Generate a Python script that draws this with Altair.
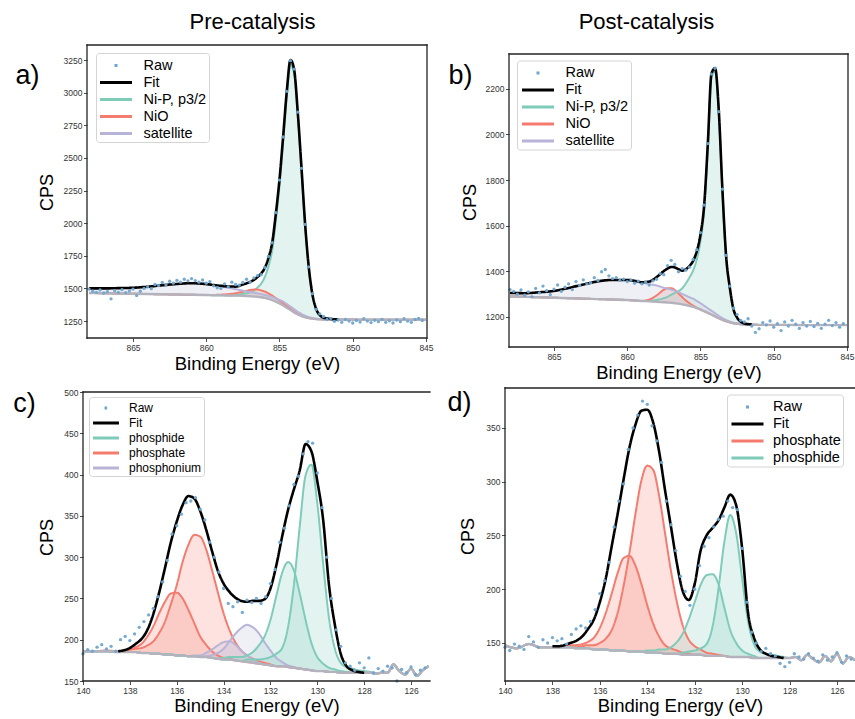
import altair as alt
import pandas as pd

FONT = "Liberation Sans"

# ---------------- Ni 2p panels (a, b) ----------------
NI_E = [868, 867, 866, 865, 864, 863, 862, 861, 860, 859.5, 859, 858.5, 858, 857.5,
        857.25, 857, 856.75, 856.5, 856.25, 856, 855.75, 855.5, 855.25, 855, 854.75,
        854.5, 854.25, 854, 853.75, 853.5, 853.25, 853, 852.75, 852.5, 852.25, 852,
        851.5, 851, 850, 849, 848, 847, 846, 845]

A_BG = [1465, 1463, 1461, 1459, 1457, 1455, 1453, 1451, 1449, 1448, 1447, 1446, 1445, 1443,
        1441, 1440, 1438, 1436, 1432, 1428, 1420, 1410, 1398, 1385, 1370, 1352, 1334, 1316,
        1300, 1288, 1279, 1272, 1268, 1265, 1263, 1262, 1262, 1261, 1261, 1260, 1260, 1260, 1260, 1260]
A_NIP = [1465, 1463, 1461, 1459, 1457, 1455, 1453, 1451, 1449, 1448, 1447, 1446, 1447, 1458,
         1463, 1470, 1483, 1506, 1537, 1588, 1670, 1790, 2018, 2285, 2620, 2972, 3214, 3146,
         2820, 2408, 1979, 1652, 1448, 1340, 1293, 1274, 1265, 1262, 1261, 1260, 1260, 1260, 1260, 1260]
A_NIO = [1465, 1463, 1461, 1459, 1457, 1455, 1453, 1451, 1449, 1450, 1452, 1456, 1463, 1475,
         1481, 1488, 1491, 1491, 1485, 1476, 1462, 1445, 1426, 1407, 1386, 1364, 1343, 1322,
         1304, 1291, 1281, 1273, 1268, 1265, 1263, 1262, 1262, 1261, 1261, 1260, 1260, 1260, 1260, 1260]
A_SAT = [1500, 1500, 1502, 1505, 1513, 1524, 1534, 1540, 1533, 1524, 1515, 1505, 1494, 1483,
         1477, 1472, 1467, 1462, 1456, 1450, 1442, 1434, 1423, 1412, 1398, 1380, 1361, 1341,
         1321, 1304, 1291, 1281, 1274, 1269, 1266, 1264, 1263, 1261, 1261, 1260, 1260, 1260, 1260, 1260]
# fit curve (drawn where the model is non-trivial)
A_FIT_E = NI_E[:38]
A_FIT = [1500, 1500, 1502, 1505, 1513, 1524, 1534, 1540, 1533, 1526, 1520, 1515, 1514, 1530,
         1539, 1550, 1565, 1587, 1614, 1658, 1734, 1849, 2071, 2334, 2664, 3012, 3250, 3177,
         2845, 2427, 1993, 1662, 1454, 1344, 1296, 1276, 1266, 1262]

B_BG = [1290, 1288, 1286, 1284, 1282, 1280, 1278, 1276, 1274, 1272, 1270, 1268, 1266, 1264,
        1263, 1262, 1260, 1258, 1255, 1252, 1248, 1244, 1238, 1232, 1225, 1218, 1210, 1202,
        1194, 1187, 1181, 1176, 1172, 1170, 1168, 1167, 1166, 1165, 1165, 1165, 1164, 1164, 1164, 1164]
B_NIP = [1290, 1288, 1286, 1284, 1282, 1280, 1278, 1276, 1274, 1272, 1270, 1271, 1274, 1282,
         1288, 1297, 1305, 1313, 1325, 1347, 1373, 1404, 1453, 1532, 1665, 1938, 2250, 2277,
         2094, 1747, 1461, 1326, 1232, 1195, 1178, 1171, 1167, 1165, 1165, 1165, 1164, 1164, 1164, 1164]
B_NIO = [1290, 1288, 1286, 1284, 1282, 1280, 1278, 1276, 1274, 1272, 1270, 1276, 1294, 1319,
         1326, 1326, 1318, 1303, 1287, 1272, 1260, 1250, 1241, 1233, 1225, 1218, 1210, 1202,
         1194, 1187, 1181, 1176, 1172, 1170, 1168, 1167, 1166, 1165, 1165, 1165, 1164, 1164, 1164, 1164]
B_SAT = [1305, 1304, 1308, 1314, 1327, 1342, 1356, 1362, 1362, 1358, 1352, 1344, 1338, 1328,
         1324, 1320, 1314, 1309, 1301, 1294, 1286, 1280, 1270, 1260, 1249, 1238, 1227, 1216,
         1205, 1195, 1187, 1180, 1175, 1172, 1169, 1167, 1166, 1165, 1165, 1165, 1164, 1164, 1164, 1164]
B_FIT_E = NI_E[:37]
B_FIT = [1305, 1304, 1308, 1314, 1327, 1342, 1356, 1362, 1362, 1358, 1352, 1355, 1374, 1401,
         1412, 1419, 1417, 1409, 1403, 1409, 1423, 1446, 1488, 1561, 1689, 1958, 2267, 2291,
         2105, 1755, 1467, 1330, 1235, 1197, 1179, 1171, 1167]

RAW_NI_E = [868.0, 867.75, 867.5, 867.25, 867.0, 866.75, 866.5, 866.25, 866.0, 865.75, 865.5, 865.25,
            865.0, 864.75, 864.5, 864.25, 864.0, 863.75, 863.5, 863.25, 863.0, 862.75, 862.5, 862.25,
            862.0, 861.75, 861.5, 861.25, 861.0, 860.75, 860.5, 860.25, 860.0, 859.75, 859.5, 859.25,
            859.0, 858.75, 858.5, 858.25, 858.0, 857.75, 857.5, 857.25, 857.0, 856.75, 856.5, 856.25,
            856.0, 855.75, 855.5, 855.25, 855.0, 854.75, 854.5, 854.25, 854.0, 853.75, 853.5, 853.25,
            853.0, 852.75, 852.5, 852.25, 852.0, 851.75, 851.5, 851.25, 851.0, 850.75, 850.5, 850.25,
            850.0, 849.75, 849.5, 849.25, 849.0, 848.75, 848.5, 848.25, 848.0, 847.75, 847.5, 847.25,
            847.0, 846.75, 846.5, 846.25, 846.0, 845.75, 845.5, 845.25]
RAW_A = [1495, 1478, 1470, 1488, 1465, 1476, 1420, 1482, 1470, 1490,
         1468, 1480, 1495, 1445, 1478, 1500, 1512, 1498, 1530, 1522,
         1545, 1528, 1555, 1540, 1562, 1548, 1570, 1558, 1575, 1560,
         1548, 1565, 1540, 1552, 1520, 1505, 1500, 1535, 1512, 1548,
         1530, 1525, 1545, 1570, 1548, 1580, 1598, 1605, 1660, 1745,
         1850, 2080, 2330, 2660, 3010, 3245, 3180, 2850, 2420, 1990,
         1665, 1460, 1340, 1305, 1285, 1262, 1270, 1248, 1258, 1240,
         1262, 1250, 1235, 1255, 1242, 1268, 1250, 1238, 1256, 1245,
         1262, 1240, 1252, 1235, 1258, 1245, 1268, 1250, 1240, 1262,
         1270, 1255]
RAW_B = [1320, 1312, 1300, 1318, 1295, 1310, 1288, 1325, 1305, 1335,
         1315, 1298, 1322, 1340, 1312, 1330, 1345, 1320, 1355, 1338,
         1362, 1345, 1350, 1372, 1360, 1398, 1408, 1380, 1368, 1372,
         1360, 1366, 1355, 1362, 1348, 1357, 1345, 1352, 1340, 1358,
         1365, 1390, 1385, 1425, 1448, 1430, 1398, 1412, 1405, 1418,
         1452, 1495, 1570, 1690, 1960, 2265, 2290, 2100, 1760, 1470,
         1335, 1238, 1210, 1185, 1178, 1192, 1160, 1132, 1148, 1175,
         1165, 1182, 1155, 1170, 1140, 1178, 1160, 1185, 1168, 1150,
         1175, 1160, 1180, 1158, 1172, 1150, 1168, 1185, 1162, 1175,
         1155, 1170]

# ---------------- P 2p panels (c, d) ----------------
P_E = [140, 139.5, 139, 138.5, 138, 137.75, 137.5, 137.25, 137, 136.75, 136.5, 136.25, 136,
       135.75, 135.5, 135.25, 135, 134.75, 134.5, 134.25, 134, 133.75, 133.5, 133.25, 133,
       132.75, 132.5, 132.25, 132, 131.75, 131.5, 131.25, 131, 130.75, 130.5, 130.25, 130,
       129.75, 129.5, 129.25, 129, 128.75, 128.5, 128.25, 128, 127.75, 127.5, 127.25, 127,
       126.75, 126.5, 126.25, 126, 125.75, 125.5, 125.25]

C_BG = [186, 186, 186, 185, 185, 185, 184, 184, 183, 183, 182, 182, 181, 181, 180, 180, 179, 179,
        178, 177, 176, 176, 175, 174, 173, 172, 171, 170, 169, 168, 168, 167, 166, 165, 164, 163,
        162, 162, 161, 161, 160, 160, 160, 160, 160, 160, 159, 160, 160, 170, 162, 158, 165, 156, 163, 168]
C_RED1 = [186, 186, 186, 185, 188, 189, 190, 193, 198, 208, 222, 243, 266, 294, 315, 327, 325, 310,
          285, 258, 232, 212, 197, 187, 181, 177, 174, 172, 170, 168, 168, 167, 166, 165, 164, 163,
          162, 162, 161, 161, 160, 160, 160, 160, 160, 160, 159, 160, 160, 170, 162, 158, 165, 156, 163, 168]
C_RED2 = [186, 186, 187, 186, 188, 191, 195, 204, 216, 232, 246, 256, 257, 250, 236, 220, 204, 194,
          186, 181, 178, 177, 175, 174, 173, 172, 171, 170, 169, 168, 168, 167, 166, 165, 164, 163,
          162, 162, 161, 161, 160, 160, 160, 160, 160, 160, 159, 160, 160, 170, 162, 158, 165, 156, 163, 168]
C_PUR1 = [186, 186, 186, 185, 185, 185, 184, 184, 183, 183, 182, 182, 181, 181, 180, 181, 181, 184,
          188, 193, 197, 198, 194, 187, 181, 176, 172, 170, 169, 168, 168, 167, 166, 165, 164, 163,
          162, 162, 161, 161, 160, 160, 160, 160, 160, 160, 159, 160, 160, 170, 162, 158, 165, 156, 163, 168]
C_PUR2 = [186, 186, 186, 185, 185, 185, 184, 184, 183, 183, 182, 182, 181, 181, 180, 180, 179, 180,
          181, 184, 189, 198, 207, 214, 218, 215, 208, 197, 187, 178, 173, 169, 167, 165, 164, 163,
          162, 162, 161, 161, 160, 160, 160, 160, 160, 160, 159, 160, 160, 170, 162, 158, 165, 156, 163, 168]
C_TEAL1 = [186, 186, 186, 185, 185, 185, 184, 184, 183, 183, 182, 182, 181, 181, 180, 180, 179, 179,
           178, 177, 178, 179, 179, 179, 181, 185, 193, 204, 224, 253, 281, 294, 284, 256, 224, 196,
           179, 171, 166, 164, 162, 161, 160, 160, 160, 160, 159, 160, 160, 170, 162, 158, 165, 156, 163, 168]
C_TEAL2 = [186, 186, 186, 185, 185, 185, 184, 184, 183, 183, 182, 182, 181, 181, 180, 180, 179, 179,
           178, 177, 176, 176, 175, 174, 176, 176, 176, 177, 179, 183, 190, 215, 266, 337, 399, 412,
           365, 292, 226, 189, 172, 167, 165, 163, 162, 161, 159, 160, 160, 170, 162, 158, 165, 156, 163, 168]
C_FIT_E = P_E[3:45]
C_FIT = [186, 190, 195, 201, 212, 231, 257, 287, 318, 343, 363, 374, 371, 356, 334,
         308, 284, 268, 258, 251, 247, 246, 247, 247, 249, 262, 290, 325, 357, 382, 405, 437, 428,
         392, 345, 266, 218, 183, 168, 163, 161, 160]

D_BG = [148, 145, 149, 146, 146, 146, 146, 146, 145, 145, 145, 144, 144, 144, 143, 143, 143, 142,
        142, 142, 141, 141, 141, 140, 140, 140, 139, 139, 139, 139, 138, 138, 138, 138, 137, 137,
        137, 137, 136, 136, 136, 136, 136, 136, 136, 137, 134, 139, 135, 132, 138, 133, 140, 131, 137, 134]
D_RED_BIG = [148, 145, 149, 146, 146, 146, 146, 146, 146, 147, 148, 148, 150, 154, 162, 178, 203, 234,
             270, 301, 315, 311, 287, 252, 217, 188, 166, 153, 147, 144, 141, 140, 139, 138, 137, 137,
             137, 137, 136, 136, 136, 136, 136, 136, 136, 137, 134, 139, 135, 132, 138, 133, 140, 131, 137, 134]
D_RED_SMALL = [148, 145, 149, 146, 146, 146, 147, 148, 148, 149, 151, 155, 164, 178, 196, 215, 229, 231,
               222, 205, 185, 168, 156, 148, 145, 143, 141, 140, 139, 139, 138, 138, 138, 138, 137, 137,
               137, 137, 136, 136, 136, 136, 136, 136, 136, 137, 134, 139, 135, 132, 138, 133, 140, 131, 137, 134]
D_TEAL_SMALL = [148, 145, 149, 146, 146, 146, 146, 146, 145, 145, 145, 144, 144, 144, 143, 143, 143, 142,
                142, 142, 143, 143, 144, 144, 146, 151, 159, 172, 188, 204, 213, 214, 205, 183, 162, 150,
                143, 140, 138, 136, 136, 136, 136, 136, 136, 137, 134, 139, 135, 132, 138, 133, 140, 131, 137, 134]
D_TEAL_BIG = [148, 145, 149, 146, 146, 146, 146, 146, 145, 145, 145, 144, 144, 144, 143, 143, 143, 142,
              142, 142, 141, 141, 141, 140, 140, 140, 141, 142, 143, 145, 149, 165, 200, 244, 269, 252,
              210, 170, 149, 142, 140, 139, 138, 137, 136, 137, 134, 139, 135, 132, 138, 133, 140, 131, 137, 134]
D_FIT_E = P_E[4:44]
D_FIT = [147, 147, 148, 150, 152, 156, 163, 172, 188, 210, 240, 270, 302, 332,
         353, 366, 367, 355, 328, 292, 258, 224, 198, 190, 205, 236, 250, 257, 264, 276, 288, 278,
         238, 178, 155, 144, 140, 138, 137, 136]

RAW_P_E = [140.0, 139.8, 139.6, 139.4, 139.2, 139.0, 138.8, 138.6, 138.4, 138.2, 138.0, 137.8, 137.6,
           137.4, 137.2, 137.0, 136.8, 136.6, 136.4, 136.2, 136.0, 135.8, 135.6, 135.4, 135.2, 135.0,
           134.8, 134.6, 134.4, 134.2, 134.0, 133.8, 133.6, 133.4, 133.2, 133.0, 132.8, 132.6, 132.4,
           132.2, 132.0, 131.8, 131.6, 131.4, 131.2, 131.0, 130.8, 130.6, 130.4, 130.2, 130.0, 129.8,
           129.6, 129.4, 129.2, 129.0, 128.8, 128.6, 128.4, 128.2, 128.0, 127.8, 127.6, 127.4, 127.2,
           127.0, 126.8, 126.6, 126.4, 126.2, 126.0, 125.8, 125.6, 125.4]
RAW_C = [183, 188, 186, 191, 194, 189, 192, 186, 200, 204,
         199, 207, 215, 222, 230, 238, 252, 270, 296, 328,
         338, 352, 366, 368, 372, 358, 345, 318, 300, 282,
         262, 244, 240, 246, 233, 248, 245, 250, 244, 252,
         268, 285, 318, 335, 362, 388, 398, 425, 440, 438,
         402, 360, 300, 250, 212, 192, 172, 168, 163, 172,
         166, 178, 160, 165, 162, 168, 166, 150, 164, 160,
         167, 158, 163, 166]
RAW_D = [146, 143, 149, 147, 144, 156, 151, 146, 153, 150,
         155, 152, 154, 149, 158, 163, 166, 164, 170, 181,
         196, 208, 225, 258, 282, 298, 330, 350, 362, 375,
         372, 352, 338, 318, 282, 260, 236, 212, 198, 185,
         200, 222, 240, 248, 258, 265, 268, 282, 276, 274,
         238, 188, 160, 150, 142, 145, 140, 138, 131, 128,
         132, 140, 137, 135, 140, 136, 133, 139, 134, 137,
         141, 132, 138, 135]

# ---------------- styling ----------------
TEAL = "#7fcbb9"
RED = "#f47c6e"
PURPLE = "#b8b4d8"
RAWC = "#6fa5cf"
BGC = "#b4b2bd"
FRAME = "#222222"
SOLID = [1, 0]
ONE = pd.DataFrame({"k": [0]})


def legend(x, y, size, path, sym_off, lab_off, fs):
    return alt.Legend(title=None, orient="none", legendX=x, legendY=y, symbolType=path,
                      symbolSize=size, symbolStrokeWidth=3, labelFont=FONT, labelFontSize=fs,
                      labelColor="black", labelOffset=lab_off, symbolOffset=sym_off, rowPadding=0,
                      padding=2, strokeColor="#d4d4d4", fillColor="white", cornerRadius=3,
                      labelLimit=400, direction="vertical")


def x_axis(off, vals, ty):
    return alt.Axis(orient="bottom", offset=off, values=vals, format="d", title="Binding Energy (eV)",
                    titleFont=FONT, titleFontSize=18.5, titleFontWeight="normal", titleColor="black",
                    titleBaseline="alphabetic", titleY=ty, labelFont=FONT, labelFontSize=8.5,
                    labelColor="#333", labelPadding=1.5, labelFlush=False, labelOverlap=False,
                    tickSize=3.5, tickColor="#222", tickWidth=0.8, domain=False, grid=False)


def y_axis(off, vals, tx, ty):
    return alt.Axis(orient="left", offset=off, values=vals, format="d", title="CPS",
                    titleFont=FONT, titleFontSize=18, titleFontWeight="normal", titleColor="black",
                    titleX=tx, titleY=ty, titleBaseline="middle", labelFont=FONT, labelFontSize=8.5,
                    labelColor="#333", labelPadding=1.5, labelOverlap=False, tickSize=3.5,
                    tickColor="#222", tickWidth=0.8, domain=False, grid=False)


def panel(E, bg, comps, fit_e, fit, raw_e, raw_v, xs, ys, domain, colors, dashes, leg):
    rows = []
    for series, cid, vals in comps:
        for e, v, b in zip(E, vals, bg):
            rows.append({"E": e, "v": v, "bg": b, "series": series, "curve": cid})
    comp_df = pd.DataFrame(rows)
    fit_df = pd.DataFrame({"E": fit_e, "v": fit, "series": "Fit", "curve": "fit"})
    bg_df = pd.DataFrame({"E": E, "v": bg})
    raw_df = pd.DataFrame({"E": raw_e, "v": raw_v})

    Xn = alt.X("E:Q", scale=xs, axis=None)
    Yn = alt.Y("v:Q", scale=ys, axis=None, stack=None)
    fill_dom = [s for s in domain if s not in ("Raw", "Fit")]
    fill_rng = [c for s, c in zip(domain, colors) if s not in ("Raw", "Fit")]
    stroke = alt.Stroke("series:N", scale=alt.Scale(domain=domain, range=colors), legend=leg)
    dash = alt.StrokeDash("series:N", scale=alt.Scale(domain=domain, range=dashes), legend=leg)

    area = alt.Chart(comp_df).mark_area(interpolate="monotone", fillOpacity=0.22).encode(
        x=Xn, y=Yn, y2="bg:Q",
        fill=alt.Fill("series:N", scale=alt.Scale(domain=fill_dom, range=fill_rng), legend=None),
        detail="curve:N")
    lines = alt.Chart(comp_df).mark_line(interpolate="monotone", strokeWidth=2).encode(
        x=Xn, y=Yn, stroke=stroke, strokeDash=dash, detail="curve:N")
    bgl = alt.Chart(bg_df).mark_line(interpolate="monotone", strokeWidth=2.4, color=BGC).encode(x=Xn, y=Yn)
    fitl = alt.Chart(fit_df).mark_line(interpolate="monotone", strokeWidth=2.6).encode(
        x=Xn, y=Yn, stroke=stroke, strokeDash=dash)
    pts = alt.Chart(raw_df).mark_circle(size=11, color=RAWC, opacity=0.95).encode(x=Xn, y=Yn)
    return alt.layer(area, lines, bgl, fitl, pts)


def axes_unit(xs, ys, xd, yd, xa, ya):
    """Invisible anchor carrying the bottom and left axes of a panel."""
    return alt.Chart(ONE).mark_point(opacity=0).encode(
        x=alt.XDatum(xd[0], scale=xs, axis=xa), y=alt.YDatum(yd[0], scale=ys, axis=ya))


def edges(xs, ys, xd, yd, sides):
    """Panel frame sides, drawn through the panel scales at the domain limits."""
    out = []
    for s in sides:
        rule = alt.Chart(ONE).mark_rule(color=FRAME, strokeWidth=1.3, strokeCap="square")
        if s in "tb":
            yv = yd[1] if s == "t" else yd[0]
            out.append(rule.encode(x=alt.XDatum(xd[0], scale=xs, axis=None), x2=alt.X2Datum(xd[1]),
                                   y=alt.YDatum(yv, scale=ys, axis=None)))
        else:
            xv = xd[0] if s == "l" else xd[1]
            out.append(rule.encode(x=alt.XDatum(xv, scale=xs, axis=None),
                                   y=alt.YDatum(yd[0], scale=ys, axis=None), y2=alt.Y2Datum(yd[1])))
    return out


def labels(xs, ys, xd, yd, top_off, right_off, top_title, top_tx, top_ty, lab, lab_tx, lab_ty):
    top_kw = dict(orient="top", offset=top_off, labels=False, ticks=False, grid=False, domain=False)
    if top_title:
        top_kw.update(title=top_title, titleX=top_tx, titleY=top_ty, titleFont=FONT, titleFontSize=22,
                      titleFontWeight="normal", titleColor="black", titleBaseline="alphabetic",
                      titleAlign="center")
    else:
        top_kw.update(title=None)
    right_ax = alt.Axis(orient="right", offset=right_off, labels=False, ticks=False, grid=False,
                        domain=False, title=lab, titleAngle=0, titleX=lab_tx, titleY=lab_ty,
                        titleFont=FONT, titleFontSize=27, titleFontWeight="normal", titleColor="black",
                        titleAlign="center", titleBaseline="middle")
    return alt.Chart(ONE).mark_point(opacity=0).encode(
        x=alt.XDatum(xd[0], scale=xs, axis=alt.Axis(**top_kw)),
        y=alt.YDatum(yd[0], scale=ys, axis=right_ax))


NI_DOM = ["Raw", "Fit", "Ni-P, p3/2", "NiO", "satellite"]
NI_COL = [RAWC, "#000000", TEAL, RED, PURPLE]
DOT32 = [0, 14.5, 3, 100]
DOT26 = [0, 11.5, 2.6, 100]
PATH32 = "M-1.78,0H1.78"
PATH26 = "M-1.73,0H1.73"
NI_XT = [865, 860, 855, 850, 845]
P_XT = [140, 138, 136, 134, 132, 130, 128, 126]

layers = []

# panel a
XD_A, YD_A = [868.14, 844.93], [1120, 3365]
xs_a = alt.Scale(domain=XD_A, range=[87, 427], zero=False, nice=False)
ys_a = alt.Scale(domain=YD_A, range=[338, 45], zero=False, nice=False)
layers.append(panel(NI_E, A_BG, [("Ni-P, p3/2", "nip", A_NIP), ("NiO", "nio", A_NIO),
                                 ("satellite", "sat", A_SAT)],
                    A_FIT_E, A_FIT, RAW_NI_E, RAW_A, xs_a, ys_a, NI_DOM, NI_COL, [DOT32] + [SOLID] * 4,
                    legend(96, 53, 324, PATH32, 7.5, 17, 14.5)))
layers.append(axes_unit(xs_a, ys_a, XD_A, YD_A, x_axis(-381, NI_XT, 31),
                        y_axis(-87, [1250, 1500, 1750, 2000, 2250, 2500, 2750, 3000, 3250], -40, 192)))
layers += edges(xs_a, ys_a, XD_A, YD_A, "tblr")
layers.append(labels(xs_a, ys_a, XD_A, YD_A, -45, -428, "Pre-catalysis", 252, -17, "a)", -400, 75))

# panel b
XD_B, YD_B = [868.07, 844.93], [1068, 2353]
xs_b = alt.Scale(domain=XD_B, range=[509, 848], zero=False, nice=False)
ys_b = alt.Scale(domain=YD_B, range=[347, 54], zero=False, nice=False)
layers.append(panel(NI_E, B_BG, [("Ni-P, p3/2", "nip", B_NIP), ("NiO", "nio", B_NIO),
                                 ("satellite", "sat", B_SAT)],
                    B_FIT_E, B_FIT, RAW_NI_E, RAW_B, xs_b, ys_b, NI_DOM, NI_COL, [DOT32] + [SOLID] * 4,
                    legend(517, 60.5, 324, PATH32, 8.5, 17, 14.5)))
layers.append(axes_unit(xs_b, ys_b, XD_B, YD_B, x_axis(-372, NI_XT, 31),
                        y_axis(-509, [1200, 1400, 1600, 1800, 2000, 2200], -39, 202)))
layers += edges(xs_b, ys_b, XD_B, YD_B, "tblr")
layers.append(labels(xs_b, ys_b, XD_B, YD_B, -54, -7, "Post-catalysis", 646, -26, "b)", -388, 75))

# panel c
C_DOM = ["Raw", "Fit", "phosphide", "phosphate", "phosphonium"]
C_COL = [RAWC, "#000000", TEAL, RED, PURPLE]
XD_C, YD_C = [140, 125.19], [150, 500]
xs_c = alt.Scale(domain=XD_C, range=[83, 430], zero=False, nice=False)
ys_c = alt.Scale(domain=YD_C, range=[681, 392], zero=False, nice=False)
layers.append(panel(P_E, C_BG, [("phosphate", "p1", C_RED1), ("phosphate", "p2", C_RED2),
                                ("phosphonium", "q1", C_PUR1), ("phosphonium", "q2", C_PUR2),
                                ("phosphide", "d1", C_TEAL1), ("phosphide", "d2", C_TEAL2)],
                    C_FIT_E, C_FIT, RAW_P_E, RAW_C, xs_c, ys_c, C_DOM, C_COL, [DOT26] + [SOLID] * 4,
                    legend(89, 397, 225, PATH26, 6, 14, 12)))
layers.append(axes_unit(xs_c, ys_c, XD_C, YD_C, x_axis(-38, P_XT, 30),
                        y_axis(-83, [150, 200, 250, 300, 350, 400, 450, 500], -36, 537)))
layers += edges(xs_c, ys_c, XD_C, YD_C, "tbl")
layers.append(labels(xs_c, ys_c, XD_C, YD_C, -392, -425, None, 0, 0, "c)", -406, 403))

# panel d
D_DOM = ["Raw", "Fit", "phosphate", "phosphide"]
D_COL = [RAWC, "#000000", RED, TEAL]
XD_D, YD_D = [140, 125.24], [114.65, 387.2]
xs_d = alt.Scale(domain=XD_D, range=[505, 855], zero=False, nice=False)
ys_d = alt.Scale(domain=YD_D, range=[681, 388], zero=False, nice=False)
layers.append(panel(P_E, D_BG, [("phosphate", "p1", D_RED_BIG), ("phosphate", "p2", D_RED_SMALL),
                                ("phosphide", "d1", D_TEAL_SMALL), ("phosphide", "d2", D_TEAL_BIG)],
                    D_FIT_E, D_FIT, RAW_P_E, RAW_D, xs_d, ys_d, D_DOM, D_COL, [DOT32] + [SOLID] * 3,
                    legend(727, 394.5, 324, PATH32, 8, 15, 14.5)))
layers.append(axes_unit(xs_d, ys_d, XD_D, YD_D, x_axis(-38, P_XT, 30),
                        y_axis(-505, [150, 200, 250, 300, 350], -37, 536)))
layers += edges(xs_d, ys_d, XD_D, YD_D, "tbl")
layers.append(labels(xs_d, ys_d, XD_D, YD_D, -388, 0, None, 0, 0, "d)", -396, 402))

chart = alt.layer(*layers).resolve_scale(
    x="independent", y="independent", stroke="independent", strokeDash="independent", fill="independent"
).resolve_axis(x="independent", y="independent").resolve_legend(
    stroke="independent", strokeDash="independent", fill="independent"
).properties(
    width=855, height=719, autosize=alt.AutoSizeParams(type="none"), padding=0
).configure_view(stroke=None)

chart.save("out.html", embed_options={"renderer": "svg", "actions": False})
